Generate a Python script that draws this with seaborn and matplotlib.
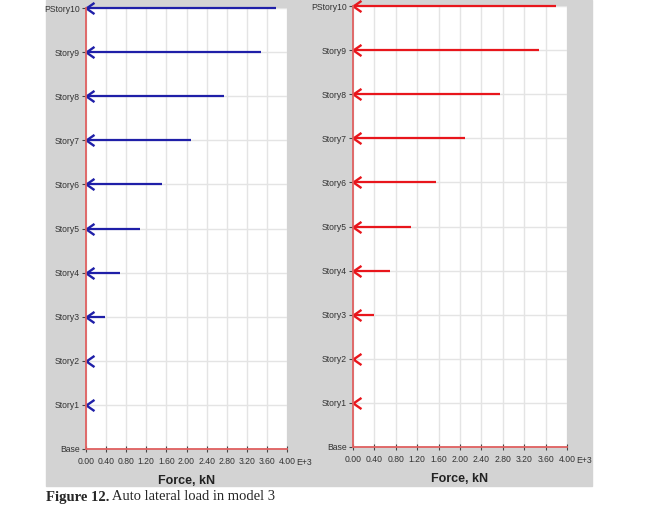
import numpy as np
import pandas as pd
import matplotlib.pyplot as plt
import seaborn as sns
from matplotlib.path import Path
from matplotlib.patches import Rectangle

# storey names, bottom to top
story_labels = ['Base', 'Story1', 'Story2', 'Story3', 'Story4', 'Story5',
                'Story6', 'Story7', 'Story8', 'Story9', 'PStory10']
story_levels = [1, 2, 3, 4, 5, 6, 7, 8, 9, 10]

# lateral force per storey, in E+3 kN
force_left = [0.03, 0.06, 0.38, 0.67, 1.07, 1.52, 2.09, 2.75, 3.48, 3.78]
force_right = [0.03, 0.06, 0.39, 0.69, 1.09, 1.55, 2.10, 2.75, 3.48, 3.79]

x_ticks = [0.0, 0.4, 0.8, 1.2, 1.6, 2.0, 2.4, 2.8, 3.2, 3.6, 4.0]

sns.set_style('white')
plt.rcParams['font.family'] = ['Liberation Sans', 'DejaVu Sans']

# open "<" arrow head, tip at the data point
chevron = Path([(1, 0.7), (0, 0), (1, -0.7)], [Path.MOVETO, Path.LINETO, Path.LINETO])

fig = plt.figure(figsize=(6.48, 5.14), dpi=100)
fig.patches.append(Rectangle((46 / 648, 1 - 486 / 514), (592 - 46) / 648, 486 / 514,
                             transform=fig.transFigure, color='#d3d3d3', zorder=-5))

ax1 = fig.add_axes([86 / 648, 1 - 449 / 514, 201 / 648, 441 / 514])
ax2 = fig.add_axes([353 / 648, 1 - 447 / 514, 214 / 648, 441 / 514])


def draw_panel(ax, forces, color):
    # each arrow = segment from 0 to the storey force
    df = pd.DataFrame({
        'force': np.concatenate([np.zeros(len(forces)), forces]),
        'level': story_levels + story_levels,
    })
    sns.lineplot(data=df, x='force', y='level', units='level', estimator=None,
                 sort=False, color=color, lw=1.6, solid_capstyle='butt',
                 ax=ax, clip_on=False, zorder=4)
    ax.plot(np.zeros(len(story_levels)), story_levels, ls='none', marker=chevron,
            ms=11.5, mew=1.7, fillstyle='none', color=color, clip_on=False, zorder=5)

    ax.set_facecolor('white')
    ax.set_xlim(0, 4.0)
    ax.set_ylim(0, 10)
    ax.set_xticks(x_ticks)
    ax.set_xticklabels([f'{t:.2f}' for t in x_ticks])
    ax.set_yticks(range(len(story_labels)))
    ax.set_yticklabels(story_labels)
    ax.set_axisbelow(True)
    ax.grid(True, color='#e4e4e4', lw=1)

    for s in ['top', 'right']:
        ax.spines[s].set_visible(False)
    for s in ['left', 'bottom']:
        ax.spines[s].set_color('#e06060')
        ax.spines[s].set_linewidth(1.3)
        ax.spines[s].set_zorder(6)

    ax.tick_params(axis='y', direction='out', length=3, width=0.8, color='#444',
                   labelsize=6.2, labelcolor='#333', pad=1.5, left=True)
    ax.tick_params(axis='x', direction='inout', length=4, width=0.8, color='#444',
                   labelsize=6.2, labelcolor='#333', pad=3.5, bottom=True)
    ax.set_xlabel('Force, kN', fontsize=9, fontweight='bold', color='#222', labelpad=6.5)
    ax.set_ylabel('')
    ax.annotate('E+3', xy=(1, 0), xycoords='axes fraction', xytext=(7, -10),
                textcoords='offset points', ha='left', va='center',
                fontsize=6.2, color='#333', annotation_clip=False)


draw_panel(ax1, force_left, '#1f1fa8')
draw_panel(ax2, force_right, '#e8161c')

cap = fig.text(46 / 648, 1 - 497 / 514, 'Figure 12.', fontsize=10.5, fontweight='bold',
               family='Liberation Serif', va='center', ha='left')
ax1.annotate(' Auto lateral load in model 3', xy=(1, 0.5), xycoords=cap,
             va='center', ha='left', fontsize=10.5, family='Liberation Serif',
             annotation_clip=False)

fig.savefig('out.png', dpi=100)
